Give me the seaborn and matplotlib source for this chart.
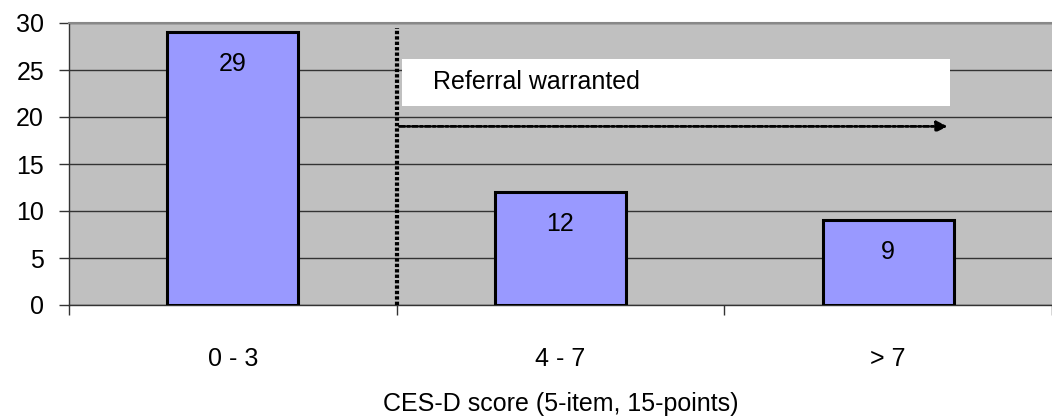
import matplotlib
matplotlib.use("Agg")
import matplotlib.pyplot as plt
import seaborn as sns
import pandas as pd

# chart data
categories = ["0 - 3", "4 - 7", "> 7"]
counts = [29, 12, 9]
x_title = "CES-D score (5-item, 15-points)"
note_text = "Referral warranted"

sns.set_style("white")
plt.rcParams['font.family'] = ['Liberation Sans', 'DejaVu Sans']
plt.rcParams['text.color'] = 'black'
plt.rcParams['xtick.color'] = 'black'
plt.rcParams['ytick.color'] = 'black'
plt.rcParams['axes.labelcolor'] = 'black'

FS = 18

df = pd.DataFrame({"score": categories, "count": counts})

fig = plt.figure(figsize=(10.52, 4.2), dpi=100)
ax = fig.add_axes([69 / 1052, 1 - 305 / 420, 1 - 69 / 1052, (305 - 23) / 420])
ax.set_facecolor("#C0C0C0")

sns.barplot(data=df, x="score", y="count", color="#9999FF", saturation=1,
            edgecolor="black", linewidth=2.2, width=0.4, ax=ax, zorder=3)

# value labels inside bars
for i, v in enumerate(counts):
    ax.annotate(str(v), (i, v), xytext=(0, -23), textcoords="offset points",
                ha="center", va="center", fontsize=FS, zorder=4)

ax.set_xlim(-0.5, 2.49)
ax.set_ylim(0, 30)
ax.set_yticks(range(0, 31, 5))
ax.yaxis.grid(True, color="#333333", linewidth=1, zorder=0)
ax.set_axisbelow(True)

# boundaries as major ticks, labels on minor ticks
ax.set_xticks([-0.5, 0.5, 1.5, 2.5])
ax.set_xticklabels([])
ax.set_xticks([0, 1, 2], minor=True)
ax.set_xticklabels(categories, minor=True)
ax.tick_params(axis="x", which="major", length=7, width=1, color="#333333", direction="out", bottom=True)
ax.tick_params(axis="x", which="minor", length=0, pad=30, labelsize=FS)
ax.tick_params(axis="y", length=7, width=1, color="#333333", direction="out", left=True, pad=11, labelsize=FS)

ax.set_xlabel(x_title, fontsize=FS, labelpad=15)
ax.set_ylabel("")

for side in ["left", "bottom"]:
    ax.spines[side].set_color("#333333")
    ax.spines[side].set_linewidth(1)
ax.spines["top"].set_color("#888888")
ax.spines["top"].set_linewidth(1.5)
ax.spines["right"].set_visible(False)

# referral cut-off line and arrow
ax.plot([0.5, 0.5], [0, 29.5], color="black", linewidth=3,
        linestyle=(0, (0.8, 0.5)), zorder=5, clip_on=False)
ax.annotate("", xy=(2.19, 19), xytext=(0.5, 19),
            arrowprops=dict(arrowstyle="-|>", color="black", lw=2,
                            linestyle=(0, (2, 0.8, 1, 0.8)), mutation_scale=16),
            zorder=5)
ax.add_patch(plt.Rectangle((0.515, 21.2), 2.19 - 0.515, 5.0, facecolor="white",
                           edgecolor="none", zorder=4))
ax.text(0.61, 23.7, note_text, fontsize=FS, va="center", ha="left", zorder=5)

fig.savefig("out.png", dpi=100)
